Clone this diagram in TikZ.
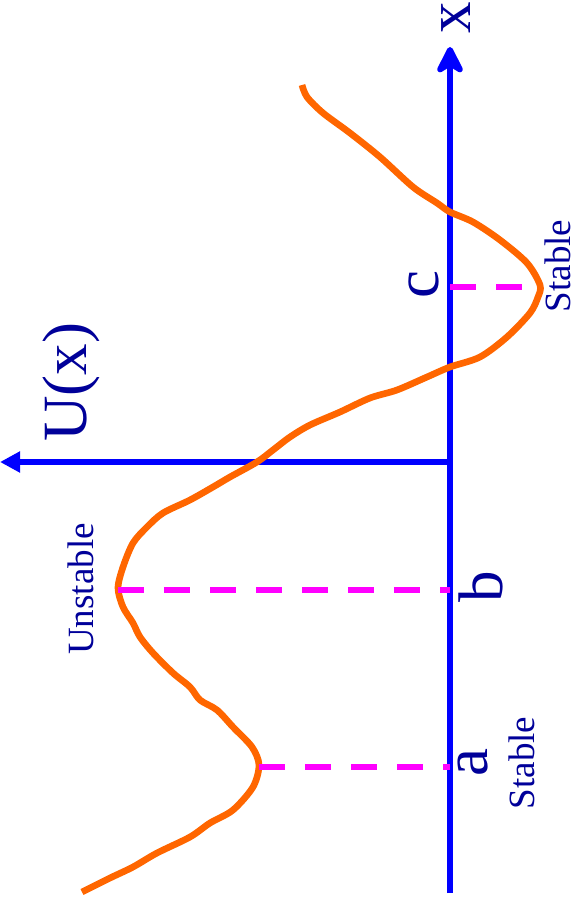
\documentclass[tikz,border=0pt]{standalone}
\usepackage{fontspec}
\setmainfont{Liberation Serif}
\usetikzlibrary{arrows.meta}
\definecolor{peblue}{RGB}{0,0,255}
\definecolor{petext}{RGB}{0,0,153}
\definecolor{peorange}{RGB}{255,102,0}
\definecolor{pemagenta}{RGB}{255,0,255}
\tikzset{
  peaxis/.style={line width=0.195cm, draw=peblue},
  pecurve/.style={line width=0.2cm, draw=peorange, line join=round},
  pedash/.style={line width=0.18cm, draw=pemagenta, dash pattern=on 0.78cm off 0.6cm},
  pesmall/.style={text=petext, font=\fontsize{31.6}{36}\selectfont, rotate=90, inner sep=0pt},
  pebig/.style={text=petext, font=\fontsize{53.8}{60}\selectfont, rotate=90, inner sep=0pt},
}
\begin{document}
\begin{tikzpicture}[x=0.03cm, y=-0.03cm]
\useasboundingbox (0,0) rectangle (578,901);
% axes
\coordinate (origin) at (450,462);
\coordinate (xstart) at (450,893);
\coordinate (xtip) at (450,47);
\coordinate (utip) at (0,462);
\draw[peaxis, -{Stealth[length=1cm, width=1cm, inset=0.3cm, round]}] (xstart) -- (xtip);
\draw[peaxis, -{Triangle[length=0.6cm, width=0.6cm]}] (origin) -- (utip);
% potential curve
\draw[pecurve] plot[smooth, tension=0.5] coordinates {
  (302,85) (307,97) (323,113) (350,133) (380,157) (413,187) (437,203)
  (450,212) (473,222) (500,240) (527,263) (540,285) (538,297) (530,313)
  (507,337) (480,357) (450,367) (427,377) (397,390) (370,398) (340,412)
  (310,425) (290,437) (273,450) (257,462) (230,477) (213,487) (190,500)
  (163,513) (147,527) (133,543) (123,567) (118,588) (123,607) (133,623)
  (140,637) (153,653) (173,673) (190,687) (200,700) (217,710) (233,727)
  (252,747) (259,765) (253,787) (233,810) (210,823) (190,837) (157,853)
  (133,867) (110,878) (82,892)};
% equilibrium points
\coordinate (cpeak) at (540,287);
\coordinate (caxis) at (450,287);
\coordinate (bpeak) at (118,590);
\coordinate (baxis) at (450,590);
\coordinate (apeak) at (259,767);
\coordinate (aaxis) at (450,767);
\draw[pedash] (caxis) -- (cpeak);
\draw[pedash] (bpeak) -- (baxis);
\draw[pedash] (apeak) -- (aaxis);
% labels
\node[pebig] (xlbl) at (456,18) {x};
\node[pebig] (ulbl) at (71,382) {U(x)};
\node[pebig] (clbl) at (424,285) {c};
\node[pebig] (blbl) at (481,587) {b};
\node[pebig] (albl) at (473,763) {a};
\node[pesmall] (cstab) at (558,266) {Stable};
\node[pesmall] (bunst) at (81,589) {Unstable};
\node[pesmall] (astab) at (522,763) {Stable};
\end{tikzpicture}
\end{document}
